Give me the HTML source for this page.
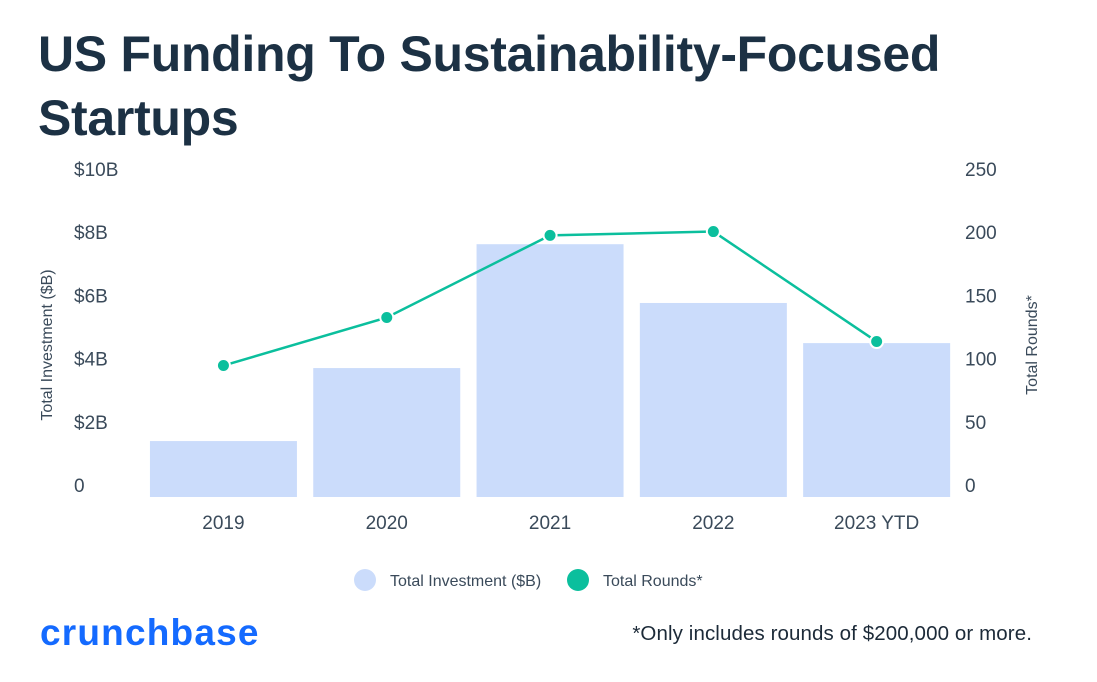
<!DOCTYPE html>
<html><head><meta charset="utf-8">
<style>
body{margin:0;background:#fff;width:1097px;height:682px;overflow:hidden;font-family:"Liberation Sans",sans-serif;}
#title{position:absolute;left:38px;top:22px;font-size:50px;font-weight:bold;color:#1c3144;line-height:64px;margin:0;letter-spacing:-0.3px;}
svg{position:absolute;left:0;top:0;}
</style></head><body>
<h1 id="title">US Funding To Sustainability-Focused<br>Startups</h1>
<svg id="chart" width="1097" height="682"></svg>
<script>
const categories=["2019","2020","2021","2022","2023 YTD"];
const investment=[1.77,4.08,8.0,6.14,4.87];
const rounds=[104,142,207,210,123];
const leftTicks=[0,2,4,6,8,10];
const leftTickLabels=["0","$2B","$4B","$6B","$8B","$10B"];
const rightTicks=[0,50,100,150,200,250];
const NS="http://www.w3.org/2000/svg";
const svg=document.getElementById('chart');
const x0=141.8,step=163.3,bw=147,yBase=497,h=316;
const yL=v=>yBase-v/10*h, yR=v=>yBase-v/250*h, xc=i=>x0+step*i+step/2;
function mk(t,a,txt){const e=document.createElementNS(NS,t);for(const k in a)e.setAttribute(k,a[k]);if(txt!=null)e.textContent=txt;svg.appendChild(e);return e;}
leftTicks.forEach((v,i)=>{const e=mk('text',{x:74,y:yL(v)-5,'font-size':19,fill:'#3a4a5a'},leftTickLabels[i]);

});
rightTicks.forEach(v=>{const e=mk('text',{x:965,y:yR(v)-5,'font-size':19,fill:'#3a4a5a'},String(v));

});
investment.forEach((v,i)=>{const e=mk('rect',{x:xc(i)-bw/2,y:yL(v),width:bw,height:yBase-yL(v),fill:'#cbdcfb'});

});
categories.forEach((c,i)=>{const e=mk('text',{x:xc(i),y:529,'font-size':19,fill:'#3a4a5a','text-anchor':'middle'},c);

});
const pl=mk('polyline',{points:rounds.map((v,i)=>xc(i)+','+yR(v)).join(' '),fill:'none',stroke:'#0bbf9d','stroke-width':2.5});


rounds.forEach((v,i)=>{const e=mk('circle',{cx:xc(i),cy:yR(v),r:6.5,fill:'#0bbf9d',stroke:'#fff','stroke-width':2});

});
let t=mk('text',{x:52,y:345,'font-size':16,fill:'#3a4a5a','text-anchor':'middle',transform:'rotate(-90 52 345)'},'Total Investment ($B)');


t=mk('text',{x:1037,y:345,'font-size':16,fill:'#3a4a5a','text-anchor':'middle',transform:'rotate(-90 1037 345)'},'Total Rounds*');


let c=mk('circle',{cx:365,cy:580,r:11,fill:'#cbdcfb'});


t=mk('text',{x:390,y:586,'font-size':16,fill:'#3a4a5a'},'Total Investment ($B)');


c=mk('circle',{cx:578,cy:580,r:11,fill:'#0bbf9d'});


t=mk('text',{x:603,y:586,'font-size':16,fill:'#3a4a5a'},'Total Rounds*');


t=mk('text',{x:40,y:645,'font-size':37,fill:'#146aff','font-weight':'bold','letter-spacing':'1.2'},'crunchbase');


t=mk('text',{x:1032,y:640,'font-size':20.5,fill:'#1c2a38','text-anchor':'end','letter-spacing':'0.1'},'*Only includes rounds of $200,000 or more.');


</script>
</body></html>
